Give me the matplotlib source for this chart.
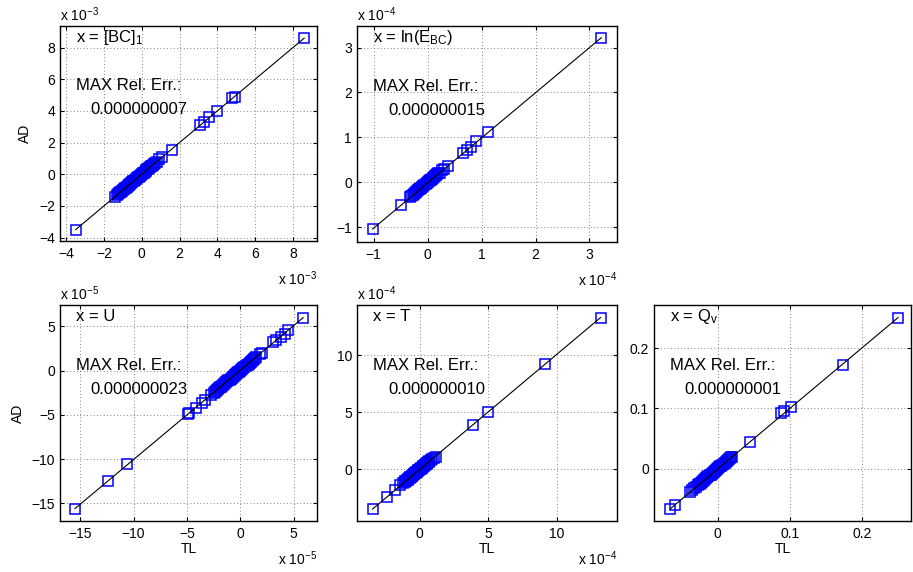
import matplotlib
matplotlib.use('Agg')
import matplotlib.pyplot as plt

plt.rcParams['font.family'] = ['Liberation Sans', 'DejaVu Sans']
plt.rcParams['mathtext.fontset'] = 'custom'
plt.rcParams['mathtext.rm'] = 'Liberation Sans'
plt.rcParams['mathtext.it'] = 'Liberation Sans:italic'
plt.rcParams['mathtext.bf'] = 'Liberation Sans:bold'

# values are in units of each panel's "x 10^n" multiplier
bc_tl = [-3.5, -1.42, -1.3, -1.25, -1.2, -1.15, -1.1, -1.05, -1.0, -0.95, -0.9, -0.85,
         -0.8, -0.75, -0.7, -0.65, -0.6, -0.55, -0.5, -0.45, -0.4, -0.35, -0.3, -0.25,
         -0.2, -0.15, -0.1, -0.05, 0.0, 0.05, 0.1, 0.15, 0.2, 0.25, 0.3, 0.35, 0.4,
         0.45, 0.5, 0.55, 0.6, 0.65, 0.7, 0.8, 0.9, 1.05, 1.6, 3.1, 3.3, 3.55, 4.0,
         4.8, 4.95, 8.6]
bc_ad = [-3.5, -1.42, -1.3, -1.25, -1.2, -1.15, -1.1, -1.05, -1.0, -0.95, -0.9, -0.85,
         -0.8, -0.75, -0.7, -0.65, -0.6, -0.55, -0.5, -0.45, -0.4, -0.35, -0.3, -0.25,
         -0.2, -0.15, -0.1, -0.05, 0.0, 0.05, 0.1, 0.15, 0.2, 0.25, 0.3, 0.35, 0.4,
         0.45, 0.5, 0.55, 0.6, 0.65, 0.7, 0.8, 0.95, 1.1, 1.55, 3.1, 3.3, 3.6, 4.0,
         4.8, 4.9, 8.6]

ebc_tl = [-1.02, -0.5, -0.33, -0.3, -0.28, -0.26, -0.24, -0.22, -0.2, -0.18, -0.16,
          -0.14, -0.12, -0.1, -0.08, -0.06, -0.04, -0.02, 0.0, 0.02, 0.04, 0.06, 0.08,
          0.1, 0.12, 0.14, 0.16, 0.18, 0.2, 0.23, 0.27, 0.3, 0.38, 0.65, 0.72, 0.8,
          0.9, 1.11, 3.22]
ebc_ad = [-1.04, -0.51, -0.33, -0.3, -0.28, -0.26, -0.24, -0.22, -0.2, -0.18, -0.16,
          -0.14, -0.12, -0.1, -0.08, -0.06, -0.04, -0.02, 0.0, 0.02, 0.04, 0.06, 0.08,
          0.1, 0.12, 0.14, 0.16, 0.18, 0.2, 0.21, 0.27, 0.3, 0.36, 0.66, 0.72, 0.78,
          0.92, 1.12, 3.22]

u_tl = [-15.5, -12.4, -10.6, -4.9, -4.8, -4.1, -3.6, -3.3, -2.7, -2.5, -2.4, -2.3,
        -2.2, -2.1, -2.0, -1.9, -1.8, -1.7, -1.6, -1.5, -1.4, -1.3, -1.2, -1.1, -1.0,
        -0.9, -0.8, -0.7, -0.6, -0.5, -0.4, -0.3, -0.2, -0.1, 0.0, 0.1, 0.2, 0.3, 0.4,
        0.5, 0.6, 0.7, 0.8, 0.9, 1.0, 1.1, 1.2, 1.3, 1.4, 1.5, 1.9, 2.0, 3.1, 3.4,
        3.8, 4.2, 4.5, 5.9]
u_ad = [-15.6, -12.5, -10.6, -4.9, -4.8, -4.2, -3.7, -3.3, -2.7, -2.5, -2.4, -2.3,
        -2.2, -2.1, -2.0, -1.9, -1.8, -1.7, -1.6, -1.5, -1.4, -1.3, -1.2, -1.1, -1.0,
        -0.9, -0.8, -0.7, -0.6, -0.5, -0.4, -0.3, -0.2, -0.1, 0.0, 0.1, 0.2, 0.3, 0.4,
        0.5, 0.6, 0.7, 0.8, 0.9, 1.0, 1.1, 1.2, 1.3, 1.4, 1.5, 1.9, 2.0, 3.2, 3.5,
        3.85, 4.2, 4.6, 6.0]

t_tl = [-3.45, -2.4, -1.85, -1.45, -1.2, -1.1, -1.05, -1.0, -0.95, -0.9, -0.85, -0.8,
        -0.75, -0.7, -0.65, -0.6, -0.55, -0.5, -0.45, -0.4, -0.35, -0.3, -0.25, -0.2,
        -0.15, -0.1, -0.05, 0.0, 0.05, 0.1, 0.15, 0.2, 0.25, 0.3, 0.35, 0.4, 0.45,
        0.5, 0.55, 0.6, 0.65, 0.7, 0.8, 0.9, 1.0, 1.2, 3.9, 5.0, 9.15, 13.2]
t_ad = [-3.48, -2.4, -1.85, -1.4, -1.2, -1.1, -1.05, -1.0, -0.95, -0.9, -0.85, -0.8,
        -0.75, -0.7, -0.65, -0.6, -0.55, -0.5, -0.45, -0.4, -0.35, -0.3, -0.25, -0.2,
        -0.15, -0.1, -0.05, 0.0, 0.05, 0.1, 0.15, 0.2, 0.25, 0.3, 0.35, 0.4, 0.45,
        0.5, 0.55, 0.6, 0.65, 0.7, 0.8, 0.9, 1.0, 1.1, 3.9, 5.0, 9.2, 13.3]

qv_tl = [-0.066, -0.059, -0.039, -0.036, -0.033, -0.03, -0.028, -0.0265, -0.025,
         -0.0235, -0.022, -0.0205, -0.019, -0.0175, -0.016, -0.0145, -0.013, -0.0115,
         -0.01, -0.0085, -0.007, -0.0055, -0.004, -0.0025, -0.001, 0.0005, 0.002,
         0.0035, 0.005, 0.0065, 0.008, 0.0095, 0.011, 0.0125, 0.014, 0.0155, 0.017,
         0.0185, 0.02, 0.044, 0.088, 0.092, 0.101, 0.173, 0.25]
qv_ad = [-0.067, -0.06, -0.039, -0.036, -0.033, -0.03, -0.028, -0.0265, -0.025,
         -0.0235, -0.022, -0.0205, -0.019, -0.0175, -0.016, -0.0145, -0.013, -0.0115,
         -0.01, -0.0085, -0.007, -0.0055, -0.004, -0.0025, -0.001, 0.0005, 0.002,
         0.0035, 0.005, 0.0065, 0.008, 0.0095, 0.011, 0.0125, 0.014, 0.0155, 0.017,
         0.0185, 0.02, 0.044, 0.092, 0.0955, 0.102, 0.173, 0.251]

titles = [r'x = [BC]$_1$', r'x = ln(E$_{\rm BC}$)', 'x = U', 'x = T', r'x = Q$_{\rm v}$']
max_errors = ['0.000000007', '0.000000015', '0.000000023', '0.000000010', '0.000000001']
exponents = [-3, -4, -5, -4, None]

xticks = [
    [-4, -2, 0, 2, 4, 6, 8],
    [-1, 0, 1, 2, 3],
    [-15, -10, -5, 0, 5],
    [0, 5, 10],
    [0, 0.1, 0.2],
]
yticks = [
    [-4, -2, 0, 2, 4, 6, 8],
    [-1, 0, 1, 2, 3],
    [-15, -10, -5, 0, 5],
    [0, 5, 10],
    [0, 0.1, 0.2],
]

panels = [
    dict(tl=bc_tl, ad=bc_ad, rect=[60, 26, 317, 241], xlim=(-4.33, 9.28), ylim=(-4.22, 9.37)),
    dict(tl=ebc_tl, ad=ebc_ad, rect=[357, 26, 617, 242], xlim=(-1.31, 3.51), ylim=(-1.33, 3.48)),
    dict(tl=u_tl, ad=u_ad, rect=[60, 305, 317, 521], xlim=(-16.9, 7.2), ylim=(-17.0, 7.43)),
    dict(tl=t_tl, ad=t_ad, rect=[357, 305, 617, 521], xlim=(-4.59, 14.4), ylim=(-4.53, 14.4)),
    dict(tl=qv_tl, ad=qv_ad, rect=[654, 305, 911, 521], xlim=(-0.0885, 0.268), ylim=(-0.0872, 0.272)),
]


def fmt(v):
    return ('%g' % v).replace('-', '\u2212')


W, H = 913, 572
fig = plt.figure(figsize=(W / 100, H / 100), dpi=100)

for i, p in enumerate(panels):
    l, t, r, b = p['rect']
    ax = fig.add_axes([l / W, 1 - b / H, (r - l) / W, (b - t) / H])
    ax.plot(p['tl'], p['ad'], 's', ms=7.5, mfc='none', mec='#0000ff', mew=1.1, zorder=2)
    ax.plot([min(p['tl']), max(p['tl'])], [min(p['ad']), max(p['ad'])], '-',
            color='k', lw=0.8, zorder=3)
    ax.set_xlim(p['xlim'])
    ax.set_ylim(p['ylim'])
    ax.set_xticks(xticks[i])
    ax.set_xticklabels([fmt(v) for v in xticks[i]])
    ax.set_yticks(yticks[i])
    ax.set_yticklabels([fmt(v) for v in yticks[i]])
    ax.tick_params(direction='in', length=3, width=0.8, top=True, right=True,
                   labelsize=10, colors='k')
    ax.tick_params(axis='x', pad=4.5)
    ax.tick_params(axis='y', pad=3.6)
    ax.grid(True, linestyle=(0, (1, 3)), color='0.35', lw=0.6, zorder=0)
    ax.set_axisbelow(True)
    for s in ax.spines.values():
        s.set_linewidth(1.0)
        s.set_color('k')

    ax.text(0.062, 0.925, titles[i], transform=ax.transAxes, fontsize=12, va='baseline')
    ax.text(0.062, 0.70, 'MAX Rel. Err.:', transform=ax.transAxes, fontsize=12, va='baseline')
    ax.text(0.12, 0.59, max_errors[i], transform=ax.transAxes, fontsize=12, va='baseline')

    if exponents[i] is not None:
        lab = r'x 10$^{%d}$' % exponents[i]
        ax.text(0.0, 1.023, lab, transform=ax.transAxes, fontsize=10, ha='left', va='baseline')
        ax.text(1.0, -0.205, lab, transform=ax.transAxes, fontsize=10, ha='right', va='baseline')

    if i in (0, 2):
        ax.set_ylabel('AD', fontsize=10, labelpad=5)
    if i >= 2:
        ax.set_xlabel('TL', fontsize=10, labelpad=0.5)

fig.savefig('out.png', dpi=100)
